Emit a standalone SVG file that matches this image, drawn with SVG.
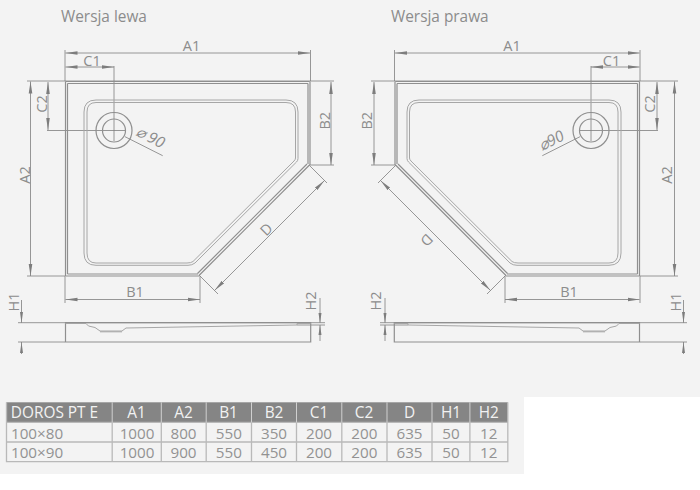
<svg xmlns="http://www.w3.org/2000/svg" width="700" height="490" viewBox="0 0 700 490">
<style>
text{font-family:"Open Sans","Noto Sans","Liberation Sans",sans-serif;fill:#8c8c8c}
.t{font-size:14.5px}
.h{font-size:15.4px}
.m{text-anchor:middle}
.o{fill:none;stroke:#a6a6a6;stroke-width:1;stroke-linejoin:round}
.b{fill:none;stroke:#8f8f8f;stroke-width:1.2}
.d{fill:none;stroke:#7d7d7d;stroke-width:.8}
.a{marker-start:url(#ar);marker-end:url(#ar)}
.th{fill:#858585}
.g{fill:none;stroke:#b9b9b9;stroke-width:1.3}
.hd{font-size:15.4px;fill:#f2f2f2}
.c{font-size:15.2px;fill:#929292}
</style>
<defs>
<marker id="ar" markerUnits="userSpaceOnUse" markerWidth="13" markerHeight="6" refX="12" refY="3" orient="auto-start-reverse">
<path d="M12,3 L0,1.200 V4.800 Z" fill="#7d7d7d"/>
</marker>
<g id="plan">
<path class="b" d="M65.500,81.500 H309.500 M67.500,83.500 H308 M65.500,81.500 V276 M67.500,83.500 V274 M65.500,276 H199 M67.500,274 H198 M310,81.500 V165 M308,83.500 V164"/>
<path class="b" d="M309.500,165 L199,275.500 M307,164 L197.500,273.500"/>
<path class="o" d="M298,112 V158.500 Q298,160.500 296.500,162 L195,263 Q192,265.300 188,265.300 H96 Q84,265.300 84,253 V112 Q84,100 96,100 H286 Q298,100 298,112 Z"/>
<path class="o" d="M295.500,112 V158 Q295.500,159.500 294,161 L193,261.500 Q191,263 187,263 H96 Q87,263 87,253 V112 Q87,102.500 96,102.500 H286 Q295.500,102.500 295.500,112 Z"/>
<circle class="b" cx="114" cy="130.500" r="18"/>
<circle class="b" cx="114" cy="130.500" r="11.500"/>
</g>
<g id="side">
<path class="b" d="M65.500,322.700 H310.700 V342 H65.500 Z"/>
<path class="o" d="M65.500,323.500 H86 L88.500,326 L95,327.500 L100,331 H122 L126,328 L297,325 V323.500 H310.500"/>
<path class="o" d="M100,331.800 H122"/>
</g>
<g id="dims">
<path class="d" d="M65,50 V81 M310.500,50 V81 M114,66 V141 M47,130.500 H125 M27,81 H334 M27,276 H65 M309,165 H334 M65,276 V303 M200,276 V303 M309,165 L327,183 M199,275 L218,294 M18,322.700 H325 M18,342 H65 M297,325 H325"/>
<path class="d a" d="M65.500,53 H310"/>
<path class="d a" d="M65.500,67 H114"/>
<path class="d a" d="M30.500,81.500 V276"/>
<path class="d a" d="M48,82 V130"/>
<path class="d a" d="M331,82 V165"/>
<path class="d a" d="M324.500,180.500 L214.500,290.500"/>
<path class="d a" d="M65.500,299.500 H200"/>
<path class="d" d="M125,136.700 L162.700,155.700"/>
<path class="d" d="M21.500,300 V322.700 M21.500,342 V354 M320,298 V322.700 M320,325 V341"/>
<path d="M21.500,323 L20,312 H23 Z M21.500,342 L20,353 H23 Z M320,323 L318.500,313 H321.500 Z M320,325 L318.500,335 H321.500 Z" fill="#7d7d7d"/>
</g>
</defs>
<rect width="700" height="490" fill="#fff"/>
<path d="M0,0 H700 V397 H524 V474 H0 Z" fill="#f3f3f3"/>

<g id="connectors">
<use href="#dims"/>
<use href="#dims" transform="translate(705,0) scale(-1,1)"/>
</g>

<g id="left-version">
<text class="h" x="61" y="22">Wersja lewa</text>
<use href="#plan"/>
<use href="#side"/>
<text class="t m" x="191.500" y="50.700">A1</text>
<text class="t m" x="92" y="66">C1</text>
<text class="t m" transform="translate(29.500,175) rotate(-90)">A2</text>
<text class="t m" transform="translate(47,104) rotate(-90)">C2</text>
<text class="t m" transform="translate(329.500,120.700) rotate(-90)">B2</text>
<text class="t m" x="135" y="297.300">B1</text>
<text class="t m" transform="translate(270,233) rotate(-45)">D</text>
<text class="t m" transform="translate(19.300,302) rotate(-90)">H1</text>
<text class="t m" transform="translate(316,301) rotate(-90)">H2</text>
<text class="t" font-style="italic" transform="translate(134.500,135) rotate(26.600)" style="font-size:15.500px">⌀ 90</text>
</g>

<g id="right-version">
<text class="h" x="391" y="22">Wersja prawa</text>
<use href="#plan" transform="translate(705,0) scale(-1,1)"/>
<use href="#side" transform="translate(705,0) scale(-1,1)"/>
<text class="t m" x="512" y="50.700">A1</text>
<text class="t m" x="611.500" y="66">C1</text>
<text class="t m" transform="translate(672,175) rotate(-90)">A2</text>
<text class="t m" transform="translate(654.500,104) rotate(-90)">C2</text>
<text class="t m" transform="translate(371.500,120.700) rotate(-90)">B2</text>
<text class="t m" x="569" y="297.300">B1</text>
<text class="t m" transform="translate(423,236.500) rotate(135)">D</text>
<text class="t m" transform="translate(681,302) rotate(-90)">H1</text>
<text class="t m" transform="translate(381,301) rotate(-90)">H2</text>
<text class="t" font-style="italic" transform="translate(542,151) rotate(-26.600)" style="font-size:15.500px">⌀90</text>
</g>

<g id="spec-table">
<rect class="th" x="6.500" y="402.300" width="501.300" height="20"/>
<path class="g" d="M6.500,402.300 V461.700 H507.800 V402.300 M6.500,422.300 H507.800 M6.500,442 H507.800 M112.200,422.300 V461.700 M161.300,422.300 V461.700 M206.200,422.300 V461.700 M251.500,422.300 V461.700 M296.500,422.300 V461.700 M341.800,422.300 V461.700 M387,422.300 V461.700 M432,422.300 V461.700 M469.900,422.300 V461.700"/>
<path d="M112.200,402.300 V422.300 M161.300,402.300 V422.300 M206.200,402.300 V422.300 M251.500,402.300 V422.300 M296.500,402.300 V422.300 M341.800,402.300 V422.300 M387,402.300 V422.300 M432,402.300 V422.300 M469.900,402.300 V422.300" stroke="#d0d0d0" stroke-width="1" fill="none"/>
<text class="hd" x="10.800" y="418">DOROS PT E</text>
<text class="hd m" x="136.500" y="418">A1</text>
<text class="hd m" x="183.500" y="418">A2</text>
<text class="hd m" x="228.500" y="418">B1</text>
<text class="hd m" x="274" y="418">B2</text>
<text class="hd m" x="319" y="418">C1</text>
<text class="hd m" x="364" y="418">C2</text>
<text class="hd m" x="409.500" y="418">D</text>
<text class="hd m" x="451" y="418">H1</text>
<text class="hd m" x="488.800" y="418">H2</text>
<text class="c" x="11" y="438.500">100×80</text>
<text class="c m" x="137" y="438.500">1000</text>
<text class="c m" x="183.500" y="438.500">800</text>
<text class="c m" x="228.800" y="438.500">550</text>
<text class="c m" x="274" y="438.500">350</text>
<text class="c m" x="319" y="438.500">200</text>
<text class="c m" x="364.300" y="438.500">200</text>
<text class="c m" x="409.500" y="438.500">635</text>
<text class="c m" x="451" y="438.500">50</text>
<text class="c m" x="488.800" y="438.500">12</text>
<text class="c" x="11" y="458.300">100×90</text>
<text class="c m" x="137" y="458.300">1000</text>
<text class="c m" x="183.500" y="458.300">900</text>
<text class="c m" x="228.800" y="458.300">550</text>
<text class="c m" x="274" y="458.300">450</text>
<text class="c m" x="319" y="458.300">200</text>
<text class="c m" x="364.300" y="458.300">200</text>
<text class="c m" x="409.500" y="458.300">635</text>
<text class="c m" x="451" y="458.300">50</text>
<text class="c m" x="488.800" y="458.300">12</text>
</g>
</svg>
